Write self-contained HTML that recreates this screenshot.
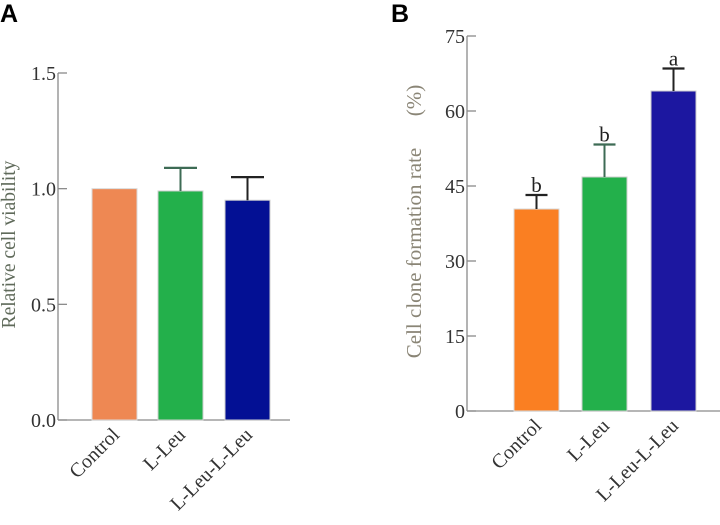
<!DOCTYPE html>
<html><head><meta charset="utf-8">
<style>
html,body{margin:0;padding:0;background:#fff;}
svg{display:block;}
text{font-family:"Liberation Serif",serif;}
</style></head>
<body>
<svg id="chart" width="720" height="525" viewBox="0 0 720 525" xmlns="http://www.w3.org/2000/svg">
<text x="0" y="22" style="font-family:'Liberation Sans',sans-serif;font-weight:bold;font-size:25px">A</text>
<text x="391" y="22" style="font-family:'Liberation Sans',sans-serif;font-weight:bold;font-size:25px">B</text>
</svg>
<script>
const categories = ["Control","L-Leu","L-Leu-L-Leu"];
const aValues = [1.0, 0.99, 0.95];
const aErrors = [0, 0.10, 0.10];
const aTicks = [0, 0.5, 1.0, 1.5];
const aTickLabels = ["0.0","0.5","1.0","1.5"];
const bValues = [40.4, 46.8, 64.0];
const bErrors = [2.8, 6.5, 4.5];
const bTicks = [0, 15, 30, 45, 60, 75];
const bTickLabels = ["0","15","30","45","60","75"];
const bLetters = ["b","b","a"];

const NS = "http://www.w3.org/2000/svg";
const svg = document.getElementById('chart');
function mk(tag, attrs, parent){
  const e = document.createElementNS(NS, tag);
  for (const k in attrs) e.setAttribute(k, attrs[k]);
  (parent||svg).appendChild(e);
  return e;
}

function panel(cfg){
  const g = mk('g', {});
  
  
  const y = v => cfg.y0 - (v - cfg.min) / (cfg.max - cfg.min) * (cfg.y0 - cfg.yTop);
  const xc = i => cfg.barX[i] + cfg.barW / 2;
  const ya = mk('line', {x1:cfg.ax, y1:y(cfg.max), x2:cfg.ax, y2:cfg.y0, stroke:'#8a8a8a', 'stroke-width':1.3}, g);
  
  
  const xa = mk('line', {x1:cfg.ax, y1:cfg.y0, x2:cfg.xEnd, y2:cfg.y0, stroke:'#8a8a8a', 'stroke-width':1.3}, g);
  
  
  cfg.ticks.forEach((t, i) => {
    const tl = mk('line', {x1:cfg.ax, y1:y(t), x2:cfg.ax + 9, y2:y(t), stroke:'#8a8a8a', 'stroke-width':1.3}, g);
    
    
    const tx = mk('text', {x:cfg.ax - 2, y:y(t) + 7, 'text-anchor':'end', 'font-size':20, fill:'#333'}, g);
    tx.textContent = cfg.tickLabels[i];
    
    
  });
  categories.forEach((c, i) => {
    const v = cfg.values[i];
    const r = mk('rect', {x:cfg.barX[i], y:y(v), width:cfg.barW, height:cfg.y0 - y(v), fill:cfg.colors[i], stroke:cfg.strokes[i], 'stroke-width':1}, g);
    
    
    const e = cfg.errors[i];
    if (e > 0) {
      const top = y(v + e);
      const el = mk('line', {x1:xc(i), y1:y(v), x2:xc(i), y2:top, stroke:cfg.errColors[i], 'stroke-width':2}, g);
      
      
      const cap = mk('line', {x1:xc(i) - cfg.capW / 2, y1:top, x2:xc(i) + cfg.capW / 2, y2:top, stroke:cfg.errColors[i], 'stroke-width':2.2}, g);
      
      
      if (cfg.letters) {
        const lt = mk('text', {x:xc(i), y:top - 3, 'text-anchor':'middle', 'font-size':21, fill:'#222'}, g);
        lt.textContent = cfg.letters[i];
        
        
      }
    }
    const ax = xc(i) + 6, ay = cfg.y0 + 16;
    const lb = mk('text', {x:ax, y:ay, 'text-anchor':'end', 'font-size':20, fill:'#333', transform:'rotate(-45 ' + ax + ' ' + ay + ')'}, g);
    lb.textContent = c;
    
    
  });
  const cy = (cfg.y0 + y(cfg.max)) / 2 + cfg.titleDy;
  const tt = mk('text', {x:cfg.titleX, y:cy, 'text-anchor':'middle', 'font-size':cfg.titleSize, fill:cfg.titleColor, transform:'rotate(-90 ' + cfg.titleX + ' ' + cy + ')'}, g);
  tt.textContent = cfg.title;
  
  
}

panel({name:'panel-a-chart', ax:58, xEnd:290, y0:420, yTop:73, min:0, max:1.5,
  ticks:aTicks, tickLabels:aTickLabels, values:aValues, errors:aErrors,
  barX:[92,158,225], barW:45, capW:33,
  colors:['#EE8853','#23B04B','#031094'], strokes:['#d9d9d9','#cfcfcf','#cfcfcf'],
  errColors:['#333','#3d6b55','#222'],
  title:'Relative cell viability', titleX:15, titleDy:-2, titleSize:19.5, titleColor:'#5f6a5a'});

panel({name:'panel-b-chart', ax:467, xEnd:720, y0:411, yTop:36, min:0, max:75,
  ticks:bTicks, tickLabels:bTickLabels, values:bValues, errors:bErrors,
  barX:[514,582,651], barW:45, capW:22, letters:bLetters,
  colors:['#FA7F22','#23B04B','#1C17A0'], strokes:['#d9d9d9','#cfcfcf','#cfcfcf'],
  errColors:['#222','#3d6b55','#222'],
  title:'Cell clone formation rate\u2003\u2002(%)', titleX:421, titleDy:-2, titleSize:21, titleColor:'#8a8576'});
</script>
</body></html>
